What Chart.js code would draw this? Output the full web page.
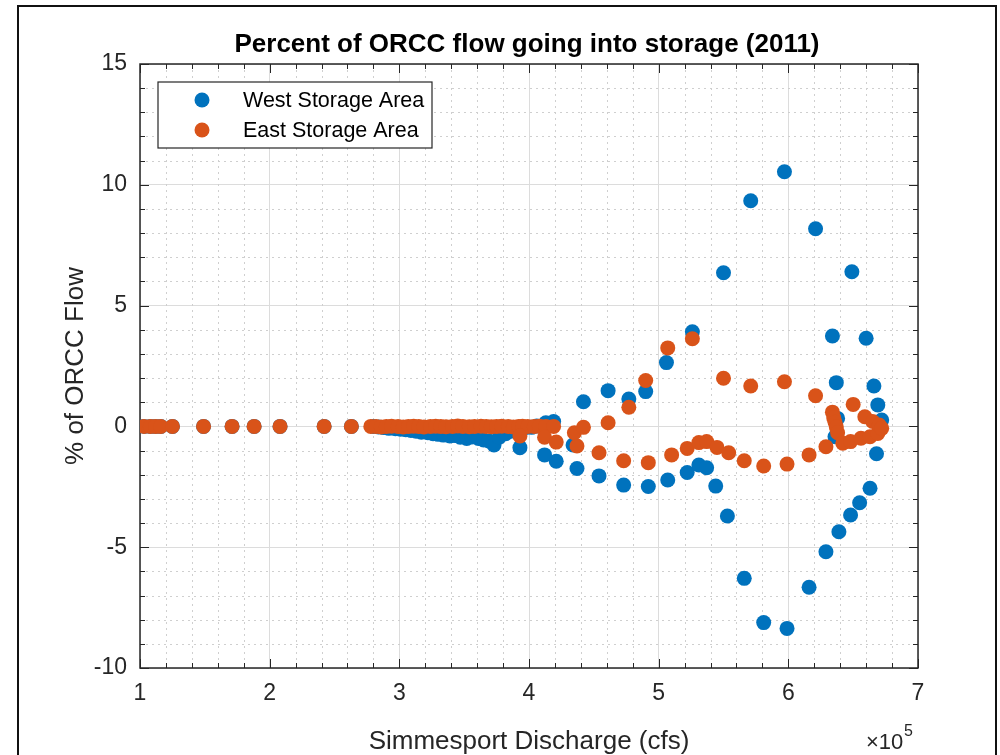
<!DOCTYPE html>
<html>
<head>
<meta charset="utf-8">
<script src="https://cdn.jsdelivr.net/npm/chart.js@4.4.1/dist/chart.umd.min.js"></script>
<style>
  html, body { margin: 0; padding: 0; background: #fff; }
  #wrap { position: relative; width: 1000px; height: 755px; overflow: hidden; }
  #frame { position: absolute; left: 17px; top: 5px; width: 976px; height: 800px;
           border: 2px solid #111; pointer-events: none; }
</style>
</head>
<body>
<div id="wrap">
  <canvas id="chart" width="1000" height="755"></canvas>
  <div id="frame"></div>
</div>
<script>
// Simmesport discharge (cfs) and % of ORCC flow
const westX = [
  103000, 108000, 112000, 116000, 125000, 149000, 171000, 188000, 208000, 242000, 263000,
  280000, 284000, 288000, 292000, 297000, 301000, 305000, 309000, 313000, 317000, 322000,
  326000, 330000, 334000, 339000, 343000, 347000, 352000, 356000, 361000, 365000, 369000,
  373000, 377000, 382000, 386000, 390000, 393000, 397000, 402000, 406000, 413000, 419000,
  412000, 421000,
  434000, 437000, 442000, 454000, 461000, 473000, 477000, 490000, 492000, 506000, 507000,
  522000, 526000, 531000, 537000, 544000, 550000, 553000, 566000, 571000, 581000, 597000,
  599000, 616000, 621000, 629000, 634000, 637000, 638000, 636000, 639000, 648000, 649000,
  655000, 660000, 663000, 666000, 668000, 669000, 672000
];
const westY = [
  0, 0, 0, 0, 0, 0, 0, 0, 0, 0, 0,
  0, -0.02, -0.05, -0.08, -0.1, -0.12, -0.14, -0.17, -0.2, -0.24, -0.26,
  -0.3, -0.33, -0.36, -0.4, -0.38, -0.45, -0.5, -0.44, -0.5, -0.56, -0.6,
  -0.77, -0.45, -0.3, -0.2, -0.1, -0.88, -0.05, -0.04, 0.02, 0.15, 0.2,
  -1.18, -1.44,
  -0.77, -1.74, 1.02, -2.05, 1.48, -2.43, 1.13, 1.44, -2.49, 2.64, -2.22,
  -1.91, 3.92, -1.6, -1.71, -2.47, 6.36, -3.71, -6.29, 9.34, -8.12, 10.54,
  -8.36, -6.66, 8.18, -5.19, 3.74, 1.81, 0.33, -0.43, -4.36, -3.67, 6.4,
  -3.16, 3.65, -2.56, 1.67, -1.13, 0.89, 0.26
];
const eastX = [
  103000, 108000, 112000, 116000, 125000, 149000, 171000, 188000, 208000, 242000, 263000,
  278000, 282000, 286000, 290000, 294000, 299000, 303000, 307000, 311000, 315000, 319000,
  324000, 328000, 332000, 336000, 341000, 345000, 349000, 354000, 358000, 363000, 367000,
  371000, 375000, 379000, 384000, 388000, 392000, 395000, 399000, 404000, 408000, 413000,
  419000, 393000, 412000, 421000,
  435000, 437000, 442000, 454000, 461000, 473000, 477000, 490000, 492000, 507000, 510000,
  522000, 526000, 531000, 537000, 545000, 550000, 554000, 566000, 571000, 581000, 597000,
  599000, 616000, 621000, 629000, 634000, 635000, 636000, 637000, 638000, 642000, 648000,
  650000, 656000, 659000, 663000, 665000, 669000, 670000, 672000
];
const eastY = [
  0, 0, 0, 0, 0, 0, 0, 0, 0, 0, 0,
  0, 0, -0.02, 0, 0.01, 0, -0.02, 0, 0.01, 0, -0.02,
  0, 0.01, 0, -0.01, 0, 0.02, 0, -0.01, 0, 0.01, 0,
  -0.01, 0, 0.01, 0, -0.02, 0, 0.01, 0, 0, 0.01, 0,
  0, -0.4, -0.45, -0.65,
  -0.26, -0.81, -0.04, -1.09, 0.15, -1.42, 0.79, 1.9, -1.5, 3.25, -1.18,
  -0.91, 3.63, -0.67, -0.63, -0.87, 1.99, -1.09, -1.42, 1.67, -1.64, 1.85,
  -1.56, -1.18, 1.27, -0.84, 0.59, 0.36, 0.17, -0.03, -0.26, -0.7, -0.63,
  0.91, -0.49, 0.4, -0.43, 0.2, -0.29, 0.06, -0.08
];
const seriesNames = ["West Storage Area", "East Storage Area"];
const seriesColors = ["#0072BD", "#D95319"];
const xTickLabels = ["1", "2", "3", "4", "5", "6", "7"];
const yTickLabels = ["-10", "-5", "0", "5", "10", "15"];

const FONT = "'Liberation Sans', Arial, Helvetica, sans-serif";
const INK = "#262626";

// MATLAB-ish axes: dotted minor grid, boxed axes, inward ticks, title, legend
const matlabAxes = {
  id: "matlabAxes",
  beforeDatasetsDraw(chart) {
    const { ctx, chartArea: a, scales: { x, y } } = chart;
    ctx.save();
    ctx.lineWidth = 1;
    ctx.strokeStyle = "#cfcfcf";
    ctx.setLineDash([2, 4]);
    for (let i = 6; i < 35; i++) {
      if (i % 5 === 0) continue;
      const px = Math.round(x.getPixelForValue(i * 20000)) + 0.5;
      ctx.beginPath(); ctx.moveTo(px, a.top); ctx.lineTo(px, a.bottom); ctx.stroke();
    }
    for (let v = -9; v < 15; v++) {
      if (v % 5 === 0) continue;
      const py = Math.round(y.getPixelForValue(v)) + 0.5;
      ctx.beginPath(); ctx.moveTo(a.left, py); ctx.lineTo(a.right, py); ctx.stroke();
    }
    ctx.setLineDash([]);

    // box + ticks on all four sides, pointing in
    ctx.strokeStyle = INK;
    ctx.lineWidth = 1.5;
    ctx.strokeRect(a.left, a.top, a.right - a.left, a.bottom - a.top);
    ctx.lineWidth = 1;
    for (let i = 5; i <= 35; i++) {
      const px = Math.round(x.getPixelForValue(i * 20000)) + 0.5;
      const len = i % 5 === 0 ? 9 : 5;
      ctx.beginPath();
      ctx.moveTo(px, a.bottom); ctx.lineTo(px, a.bottom - len);
      ctx.moveTo(px, a.top); ctx.lineTo(px, a.top + len);
      ctx.stroke();
    }
    for (let v = -10; v <= 15; v++) {
      const py = Math.round(y.getPixelForValue(v)) + 0.5;
      const len = v % 5 === 0 ? 9 : 5;
      ctx.beginPath();
      ctx.moveTo(a.left, py); ctx.lineTo(a.left + len, py);
      ctx.moveTo(a.right, py); ctx.lineTo(a.right - len, py);
      ctx.stroke();
    }
    ctx.restore();
  },
  afterDraw(chart) {
    const { ctx, chartArea: a } = chart;
    ctx.save();
    ctx.fillStyle = "#000";
    ctx.textAlign = "center";
    ctx.textBaseline = "middle";
    ctx.font = "bold 26px " + FONT;
    ctx.fillText("Percent of ORCC flow going into storage (2011)", (a.left + a.right) / 2 - 2, 45);

    // exponent label under the right end of the x axis
    ctx.fillStyle = INK;
    ctx.textAlign = "left";
    ctx.font = "22px " + FONT;
    ctx.fillText("\u00d710", a.right - 52, 743);
    ctx.font = "16px " + FONT;
    ctx.fillText("5", a.right - 14, 732);

    // legend box
    const lx = a.left + 18, ly = a.top + 18, lw = 274, lh = 66;
    ctx.fillStyle = "#fff";
    ctx.fillRect(lx, ly, lw, lh);
    ctx.strokeStyle = INK;
    ctx.lineWidth = 1.2;
    ctx.strokeRect(lx, ly, lw, lh);
    ctx.font = "21.5px " + FONT;
    chart.data.datasets.slice().sort((p, q) => p.legendIndex - q.legendIndex).forEach((ds, i) => {
      const cy = ly + 18 + i * 30;
      ctx.fillStyle = ds.backgroundColor;
      ctx.beginPath(); ctx.arc(lx + 44, cy, 7.5, 0, Math.PI * 2); ctx.fill();
      ctx.fillStyle = "#000";
      ctx.fillText(ds.label, lx + 85, cy + 1);
    });
    ctx.restore();
  }
};

const toPoints = (xs, ys) => xs.map((v, i) => ({ x: v, y: ys[i] }));

new Chart(document.getElementById("chart"), {
  type: "scatter",
  data: {
    datasets: [
      // East first so it is painted over West, as in the figure
      { label: seriesNames[1], legendIndex: 1, data: toPoints(eastX, eastY),
        backgroundColor: seriesColors[1], pointRadius: 7.5, borderWidth: 0 },
      { label: seriesNames[0], legendIndex: 0, data: toPoints(westX, westY),
        backgroundColor: seriesColors[0], pointRadius: 7.5, borderWidth: 0 }
    ]
  },
  options: {
    responsive: false,
    animation: false,
    events: [],
    layout: { padding: { left: 0, top: 64, right: 82, bottom: 0 } },
    plugins: { legend: { display: false }, tooltip: { enabled: false }, title: { display: false } },
    scales: {
      x: {
        type: "linear", min: 100000, max: 700000,
        afterFit(s) { s.height = 87; },
        ticks: {
          stepSize: 100000, padding: 12, color: INK,
          font: { family: FONT, size: 23 },
          callback: (v) => xTickLabels[Math.round(v / 100000) - 1]
        },
        grid: { color: "#dcdcdc", drawTicks: false, lineWidth: 1 },
        border: { display: false },
        title: { display: true, text: "Simmesport Discharge (cfs)", color: INK,
                 font: { family: FONT, size: 26, lineHeight: 1 }, padding: { top: 0, bottom: 0 } }
      },
      y: {
        type: "linear", min: -10, max: 15,
        afterFit(s) { s.width = 140; },
        ticks: {
          stepSize: 5, padding: 13, color: INK,
          font: { family: FONT, size: 23 },
          callback: (v) => yTickLabels[Math.round((v + 10) / 5)]
        },
        grid: { color: "#dcdcdc", drawTicks: false, lineWidth: 1 },
        border: { display: false },
        title: { display: true, text: "% of ORCC Flow", color: INK,
                 font: { family: FONT, size: 26, lineHeight: 1.2 }, padding: { top: 60, bottom: 0 } }
      }
    }
  },
  plugins: [matlabAxes]
});
</script>
</body>
</html>
